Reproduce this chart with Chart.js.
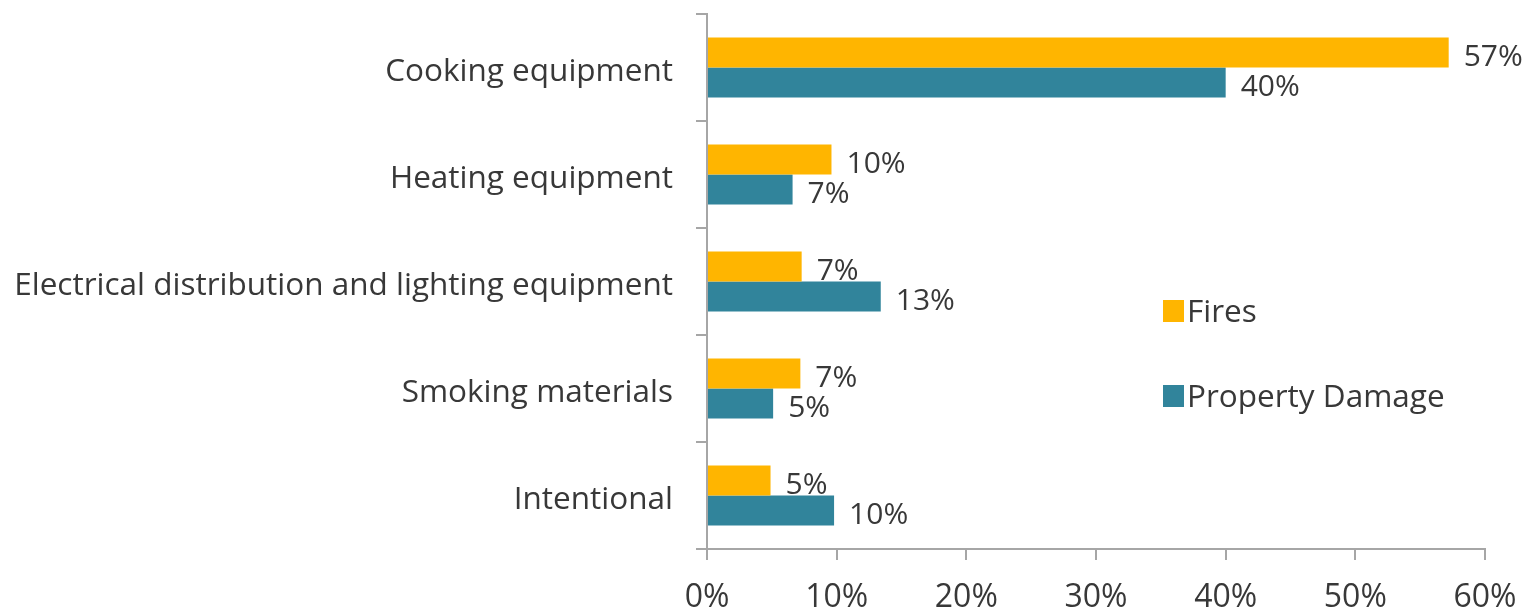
<!DOCTYPE html>
<html>
<head>
<meta charset="utf-8">
<script src="https://cdn.jsdelivr.net/npm/chart.js@4.4.1/dist/chart.umd.min.js"></script>
<style>
  html, body { margin: 0; padding: 0; background: #fff; }
  #wrap { width: 1535px; height: 611px; }
</style>
</head>
<body>
<div id="wrap"><canvas id="myChart" width="1535" height="611"></canvas></div>
<script>
const categories = [
  'Cooking equipment',
  'Heating equipment',
  'Electrical distribution and lighting equipment',
  'Smoking materials',
  'Intentional'
];
// bar lengths (percent)
const firesValues = [57.2, 9.6, 7.3, 7.2, 4.9];
const damageValues = [40.0, 6.6, 13.4, 5.1, 9.8];
const xTicks = [0, 10, 20, 30, 40, 50, 60];

const FONT = "'Open Sans', sans-serif";
const TEXT = '#383838';
const AXIS = '#a6a6a6';
const ORANGE = '#FFB500';
const TEAL = '#31849B';

const valueLabels = {
  id: 'valueLabels',
  afterDatasetsDraw(chart) {
    const {ctx} = chart;
    ctx.save();
    ctx.font = '30px ' + FONT;
    ctx.fillStyle = TEXT;
    ctx.textAlign = 'left';
    ctx.textBaseline = 'middle';
    chart.data.datasets.forEach((ds, i) => {
      chart.getDatasetMeta(i).data.forEach((bar, j) => {
        ctx.fillText(Math.round(ds.data[j]) + '%', bar.x + 15, bar.y + 5);
      });
    });
    ctx.restore();
  }
};

const sideLegend = {
  id: 'sideLegend',
  afterDraw(chart) {
    const {ctx, chartArea} = chart;
    const x = chartArea.left + 456;
    const top = chartArea.top + 286;
    ctx.save();
    ctx.font = '31.5px ' + FONT;
    ctx.textBaseline = 'middle';
    ctx.textAlign = 'left';
    chart.data.datasets.forEach((ds, i) => {
      const y = top + i * 85;
      ctx.fillStyle = ds.backgroundColor;
      ctx.fillRect(x, y, 21, 22);
      ctx.fillStyle = TEXT;
      ctx.fillText(ds.label, x + 24, y + 13);
    });
    ctx.restore();
  }
};

const ctx = document.getElementById('myChart').getContext('2d');
const myChart = new Chart(ctx, {
  type: 'bar',
  data: {
    labels: categories,
    datasets: [
      { label: 'Fires', data: firesValues, backgroundColor: ORANGE },
      { label: 'Property Damage', data: damageValues, backgroundColor: TEAL }
    ]
  },
  options: {
    indexAxis: 'y',
    responsive: false,
    animation: false,
    categoryPercentage: 0.56,
    barPercentage: 1,
    layout: { padding: { top: 14, right: 50, left: 0, bottom: 0 } },
    plugins: {
      legend: { display: false },
      tooltip: { enabled: false }
    },
    scales: {
      x: {
        min: 0,
        max: 60,
        afterBuildTicks: (scale) => { scale.ticks = xTicks.map(v => ({value: v})); },
        afterFit: (scale) => { scale.height = 62; scale.paddingLeft = 0; scale.paddingRight = 0; },
        grid: { drawOnChartArea: false, tickLength: 11, color: AXIS, lineWidth: 2 },
        border: { color: AXIS, width: 2 },
        ticks: {
          padding: 19,
          color: TEXT,
          font: { family: FONT, size: 32 },
          callback: (v) => v + '%'
        }
      },
      y: {
        afterFit: (scale) => { scale.width = 707; scale.paddingTop = 0; scale.paddingBottom = 0; },
        grid: { drawOnChartArea: false, tickLength: 11, color: AXIS, lineWidth: 2, offset: true },
        border: { color: AXIS, width: 2 },
        ticks: {
          padding: 23,
          labelOffset: 5,
          color: TEXT,
          font: { family: FONT, size: 31.5 }
        }
      }
    }
  },
  plugins: [valueLabels, sideLegend]
});
</script>
</body>
</html>
